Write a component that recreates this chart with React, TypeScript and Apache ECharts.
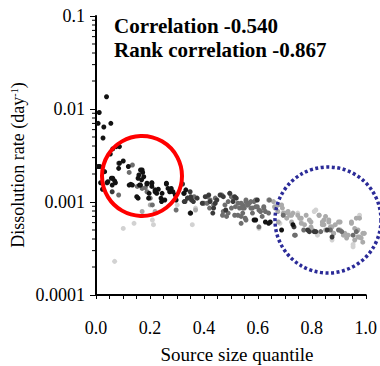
import React, { useEffect, useRef } from "react";
import * as echarts from "echarts";

// Source size quantile (x) vs dissolution rate in day^-1 (y), grouped by point shade
const blackPts: number[][] = [
  [0.039, 0.01355], [0.012, 0.00917], [0.008, 0.00702], [0.029, 0.0064], [0.055, 0.00702],
  [0.026, 0.00488], [0.087, 0.00394], [0.075, 0.00394], [0.062, 0.00372], [0.053, 0.00328],
  [0.008, 0.00241], [0.014, 0.00241], [0.101, 0.00276], [0.087, 0.00261], [0.084, 0.0023],
  [0.171, 0.00221], [0.173, 0.00208], [0.057, 0.0018], [0.12, 0.00241], [0.165, 0.00221],
  [0.159, 0.00195], [0.177, 0.00187], [0.156, 0.0018], [0.169, 0.00173], [0.017, 0.00161],
  [0.041, 0.00161], [0.062, 0.0018], [0.072, 0.00161], [0.06, 0.00152], [0.024, 0.00137],
  [0.123, 0.00152], [0.135, 0.00152], [0.161, 0.00152], [0.189, 0.00156], [0.207, 0.00161],
  [0.207, 0.00147], [0.197, 0.00124], [0.219, 0.00129], [0.225, 0.00124], [0.231, 0.00137],
  [0.195, 0.0011], [0.156, 0.0011], [0.151, 0.00114], [0.245, 0.00124], [0.261, 0.00156],
  [0.273, 0.00129], [0.279, 0.0014], [0.294, 0.00119], [0.297, 0.00105], [0.241, 0.0011],
  [0.255, 0.00105], [0.327, 0.00124], [0.592, 0.00064], [0.646, 0.00061], [0.688, 0.0005],
  [0.032, 0.00212], [0.044, 0.00165], [0.069, 0.00169], [0.129, 0.00155], [0.165, 0.00152],
  [0.189, 0.00159], [0.207, 0.00159], [0.219, 0.00135], [0.243, 0.00101], [0.261, 0.00159],
  [0.267, 0.0014], [0.285, 0.00129], [0.333, 0.00135], [0.586, 0.00064], [0.628, 0.00061],
  [0.64, 0.00059], [0.351, 0.00076], [0.73, 0.00057],
];
const darkPts: number[][] = [
  [0.06, 0.00129], [0.321, 0.00156], [0.325, 0.00124], [0.349, 0.00129], [0.351, 0.00114],
  [0.339, 0.0011], [0.354, 0.00105], [0.327, 0.00101], [0.361, 0.00101], [0.375, 0.0011],
  [0.394, 0.00097], [0.405, 0.00114], [0.418, 0.00119], [0.423, 0.00101], [0.349, 0.00076],
  [0.33, 0.00101], [0.46, 0.00119], [0.472, 0.00114], [0.442, 0.00097], [0.448, 0.00105],
  [0.481, 0.00082], [0.436, 0.00086], [0.433, 0.00076], [0.496, 0.00124], [0.508, 0.00101],
  [0.514, 0.00114], [0.52, 0.0011], [0.598, 0.00105], [0.785, 0.0005], [0.809, 0.00048],
  [0.734, 0.00054], [0.857, 0.0005], [0.875, 0.00042], [0.791, 0.00048], [0.815, 0.00048],
];
const midPts: number[][] = [
  [0.135, 0.0025], [0.084, 0.00261], [0.123, 0.00208], [0.084, 0.00119], [0.153, 0.00147],
  [0.171, 0.0014], [0.183, 0.00143], [0.189, 0.00129], [0.201, 0.0011], [0.209, 0.00093],
  [0.412, 0.00097], [0.421, 0.00086], [0.469, 0.00072], [0.49, 0.00076], [0.484, 0.0007],
  [0.502, 0.00114], [0.517, 0.00089], [0.526, 0.00097], [0.532, 0.00086], [0.544, 0.00093],
  [0.55, 0.00086], [0.556, 0.00101], [0.562, 0.00093], [0.568, 0.00097], [0.574, 0.00086],
  [0.58, 0.00076], [0.586, 0.00101], [0.592, 0.00089], [0.604, 0.00082], [0.622, 0.00089],
  [0.628, 0.00079], [0.616, 0.0007], [0.64, 0.00076], [0.526, 0.00072], [0.538, 0.00059],
  [0.553, 0.00067], [0.544, 0.00076], [0.643, 0.00105], [0.297, 0.00082], [0.694, 0.00072],
  [0.739, 0.00044], [0.77, 0.0005], [0.833, 0.00048], [0.869, 0.0005], [0.899, 0.0005],
  [0.911, 0.00048], [0.965, 0.00048], [0.953, 0.00044],
  [0.339, 0.0011], [0.364, 0.00114], [0.4, 0.00097], [0.412, 0.00114], [0.423, 0.00105],
  [0.436, 0.00093], [0.442, 0.0011], [0.466, 0.00119], [0.478, 0.00093], [0.472, 0.00079],
  [0.49, 0.00101], [0.496, 0.00124], [0.508, 0.0011], [0.502, 0.00086], [0.514, 0.00072],
  [0.538, 0.00097], [0.544, 0.00086], [0.556, 0.00105], [0.562, 0.00093], [0.574, 0.00101],
  [0.58, 0.00086], [0.592, 0.00105], [0.598, 0.00089], [0.61, 0.00079], [0.622, 0.00086],
  [0.538, 0.0007], [0.556, 0.00064], [0.604, 0.00054], [0.736, 0.00044],
];
const lightPts: number[][] = [
  [0.201, 0.00093], [0.219, 0.00079], [0.171, 0.00079], [0.369, 0.00082], [0.662, 0.00089],
  [0.676, 0.00093], [0.674, 0.00079], [0.691, 0.00086], [0.7, 0.00076], [0.712, 0.00076],
  [0.725, 0.00072], [0.707, 0.00067], [0.725, 0.00061], [0.755, 0.00067], [0.773, 0.00057],
  [0.797, 0.00061], [0.827, 0.00072], [0.839, 0.00057], [0.845, 0.00064], [0.851, 0.0007],
  [0.863, 0.00061], [0.869, 0.00054], [0.881, 0.00046], [0.887, 0.00057], [0.905, 0.00061],
  [0.917, 0.00044], [0.929, 0.00041], [0.947, 0.00061], [0.959, 0.00039], [0.971, 0.00042],
  [0.983, 0.00041], [0.989, 0.00046], [0.977, 0.00067], [0.989, 0.00037], [0.959, 0.00052],
  [0.658, 0.00101], [0.664, 0.00086], [0.688, 0.00093], [0.694, 0.00076], [0.712, 0.00079],
  [0.718, 0.00072], [0.73, 0.00076], [0.748, 0.00072], [0.761, 0.00067], [0.676, 0.00061],
  [0.761, 0.00059], [0.779, 0.00072], [0.791, 0.00064], [0.797, 0.00054], [0.803, 0.0005],
  [0.827, 0.00072], [0.839, 0.00061], [0.845, 0.00057], [0.851, 0.0005], [0.863, 0.00064],
  [0.875, 0.00054], [0.881, 0.00046], [0.899, 0.00061], [0.905, 0.0005], [0.923, 0.00046],
  [0.935, 0.00044], [0.947, 0.00059], [0.965, 0.00067], [0.971, 0.0005], [0.977, 0.00042],
  [0.995, 0.00046], [0.64, 0.00105],
];
const palePts: number[][] = [
  [0.141, 0.00059], [0.209, 0.00064], [0.213, 0.00057], [0.101, 0.00052], [0.069, 0.00023],
  [0.301, 0.00093], [0.357, 0.00057], [0.604, 0.00052], [0.682, 0.00059], [0.748, 0.00076],
  [0.761, 0.00061], [0.815, 0.00082], [0.821, 0.00044], [0.953, 0.00033], [0.977, 0.00072],
  [0.875, 0.00039], [0.809, 0.00079], [0.369, 0.00086], [0.953, 0.00035],
];

const yTickLabels: Record<string, string> = {
  "0.0001": "0.0001", "0.001": "0.001", "0.01": "0.01", "0.1": "0.1",
};
const logMinorTicks: number[] = [
  0.0002, 0.0003, 0.0004, 0.0005, 0.0006, 0.0007, 0.0008, 0.0009,
  0.002, 0.003, 0.004, 0.005, 0.006, 0.007, 0.008, 0.009,
  0.02, 0.03, 0.04, 0.05, 0.06, 0.07, 0.08, 0.09,
];

const SERIF = "Liberation Serif";

export default function App() {
  const ref = useRef<HTMLDivElement>(null);
  useEffect(() => {
    if (!ref.current) return;
    const chart = echarts.init(ref.current, undefined, { renderer: "svg" });
    const scatter = (name: string, data: number[][], color: string) => ({
      name,
      type: "scatter",
      data,
      symbol: "circle",
      symbolSize: 5,
      itemStyle: { color, opacity: 1 },
      z: 3,
    });
    chart.setOption({
      animation: false,
      backgroundColor: "#fff",
      textStyle: { fontFamily: SERIF },
      grid: { left: 96, right: 7, top: 16, bottom: 71, containLabel: false },
      xAxis: {
        type: "value",
        min: 0,
        max: 1,
        interval: 0.2,
        axisLine: { show: true, lineStyle: { color: "#000", width: 2 } },
        axisTick: { show: true, inside: false, length: 4, lineStyle: { color: "#000", width: 1 } },
        minorTick: { show: true, splitNumber: 4, length: 4, lineStyle: { color: "#000", width: 1 } },
        splitLine: { show: false },
        axisLabel: {
          margin: 24,
          fontFamily: SERIF,
          fontSize: 18,
          color: "#000",
          formatter: (v: number) => v.toFixed(1),
        },
      },
      yAxis: {
        type: "log",
        logBase: 10,
        min: 0.0001,
        max: 0.1,
        axisLine: { show: true, lineStyle: { color: "#000", width: 2 } },
        axisTick: { show: true, inside: false, length: 6, lineStyle: { color: "#000", width: 1 } },
        splitLine: { show: false },
        axisLabel: {
          margin: 11,
          fontFamily: SERIF,
          fontSize: 18,
          color: "#000",
          formatter: (v: number) => {
            const k = String(Number(v.toPrecision(3)));
            return yTickLabels[k] ?? k;
          },
        },
      },
      series: [
        scatter("pale", palePts, "#d2d2d2"),
        scatter("light", lightPts, "#aaaaaa"),
        scatter("mid", midPts, "#6e6e6e"),
        scatter("dark", darkPts, "#3a3a3a"),
        scatter("black", blackPts, "#121212"),
        {
          name: "minorTicks",
          type: "custom",
          clip: false,
          silent: true,
          data: logMinorTicks.map((v) => [0, v]),
          renderItem: (_p: any, api: any) => {
            const pt = api.coord([0, api.value(1)]);
            return {
              type: "line",
              shape: { x1: pt[0] - 4, y1: pt[1], x2: pt[0], y2: pt[1] },
              style: { stroke: "#000", lineWidth: 1 },
            };
          },
          z: 1,
        },
      ],
      graphic: [
        {
          type: "circle",
          shape: { cx: 142, cy: 176, r: 40 },
          style: { fill: "none", stroke: "#ff0000", lineWidth: 4 },
          z: 10,
        },
        {
          type: "circle",
          shape: { cx: 328, cy: 220, r: 53 },
          style: { fill: "none", stroke: "#2b2b98", lineWidth: 3.5, lineDash: [3, 2.5] },
          z: 10,
        },
        {
          type: "text",
          x: 114,
          y: 26,
          style: {
            text: "Correlation -0.540",
            fontFamily: SERIF,
            fontWeight: "bold",
            fontSize: 21,
            fill: "#000",
            verticalAlign: "middle",
          },
          z: 10,
        },
        {
          type: "text",
          x: 114,
          y: 50,
          style: {
            text: "Rank correlation -0.867",
            fontFamily: SERIF,
            fontWeight: "bold",
            fontSize: 21,
            fill: "#000",
            verticalAlign: "middle",
          },
          z: 10,
        },
        {
          type: "text",
          x: 237,
          y: 354,
          style: {
            text: "Source size quantile",
            fontFamily: SERIF,
            fontSize: 19,
            fill: "#000",
            align: "center",
            verticalAlign: "middle",
          },
        },
        {
          type: "text",
          x: 18,
          y: 165,
          rotation: Math.PI / 2,
          style: {
            text: "Dissolution rate (day{sup|-1})",
            fontFamily: SERIF,
            fontSize: 18,
            fill: "#000",
            align: "center",
            verticalAlign: "middle",
            rich: {
              sup: { fontSize: 10, verticalAlign: "top", fontFamily: SERIF, padding: [0, 0, 7, 0] },
            },
          },
        },
      ],
    });
    return () => chart.dispose();
  }, []);
  return (
    <div
      ref={ref}
      style={{ position: "fixed", left: 0, top: 0, width: 380, height: 366, background: "#fff" }}
    />
  );
}
